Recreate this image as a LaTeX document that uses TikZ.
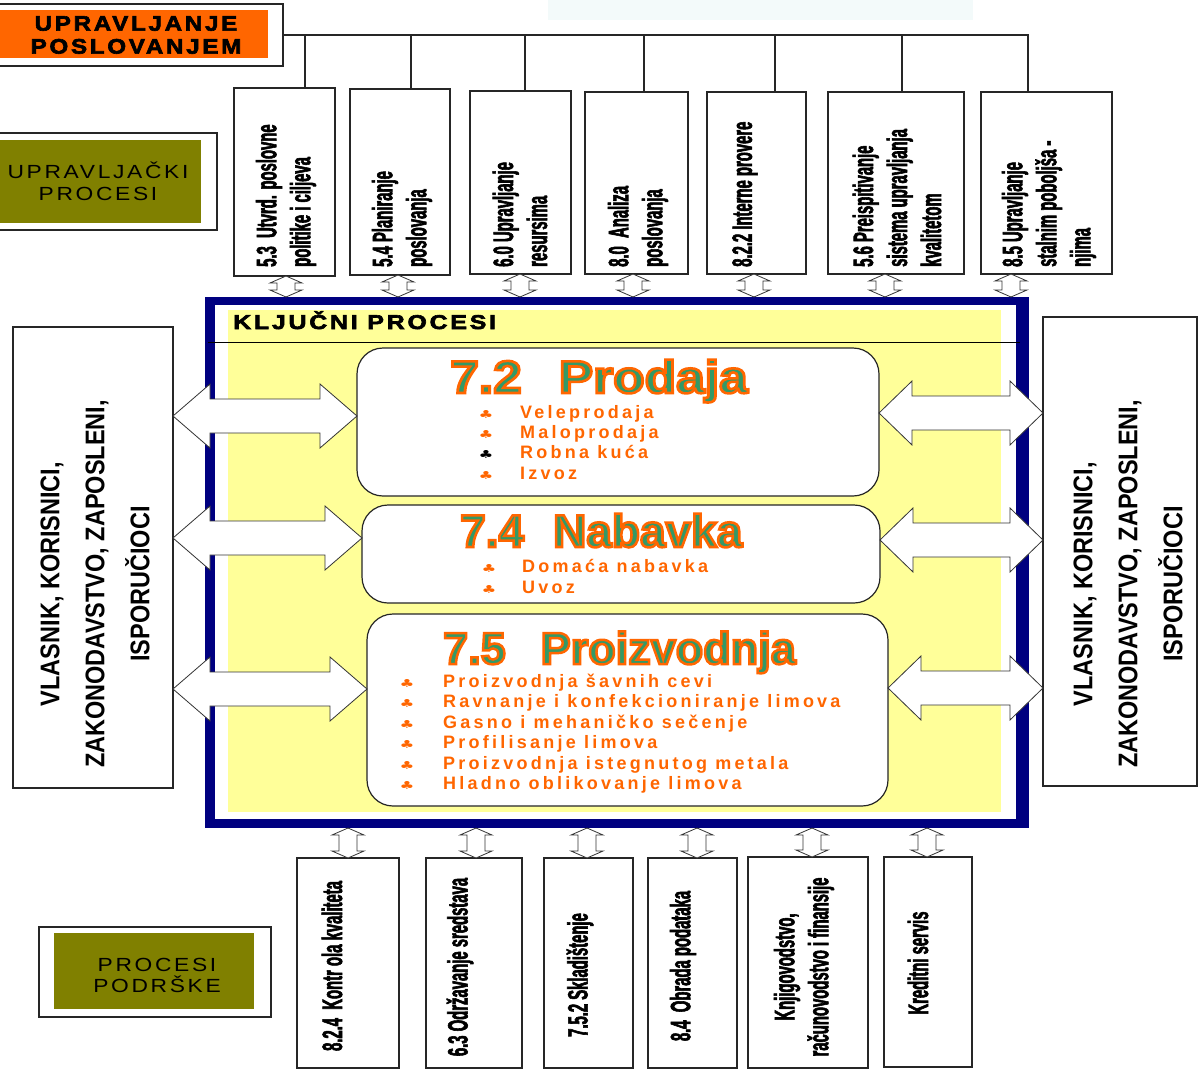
\documentclass[tikz,border=0pt]{standalone}
\usepackage{fontspec}
\setmainfont{Liberation Sans}
\newfontfamily\widefont[FakeStretch=1.2,LetterSpace=14]{Liberation Sans}
\newfontfamily\blackfont[FakeStretch=1.15,LetterSpace=13,FakeBold=3]{Liberation Sans}
\newfontfamily\itemfont[LetterSpace=18]{Liberation Sans}
\newfontfamily\condfont[FakeStretch=0.53,FakeBold=2]{Liberation Sans}
\newfontfamily\sidefont[FakeStretch=0.87]{Liberation Sans}
\newfontfamily\ttlfont[FakeBold=5.5]{Liberation Sans}
\newfontfamily\symfont{DejaVu Sans}
\usetikzlibrary{calc}
\definecolor{orng}{HTML}{FF6600}
\definecolor{olivec}{HTML}{808000}
\definecolor{yel}{HTML}{FFFF99}
\definecolor{navyc}{HTML}{000080}
\definecolor{ttlgr}{HTML}{339966}
\definecolor{itemor}{HTML}{FF6600}
\definecolor{paleblue}{HTML}{F3FAFA}
% green text with orange outline (stroke colour set after the fill colour)
\newcommand\olin[1]{{\color{ttlgr}\special{pdf:literal direct 1 0.4 0 RG}#1}}
\newcommand\harrow[4]{%
\draw[blockarrow] let \p1=(#1), \p2=(#2) in (\x1,\y1) -- (\x1+#3,\y1+32pt) -- (\x1+#3,\y1+17pt) -- (\x2-#4,\y1+17pt) -- (\x2-#4,\y1+32pt) -- (\x2,\y1) -- (\x2-#4,\y1-32pt) -- (\x2-#4,\y1-17pt) -- (\x1+#3,\y1-17pt) -- (\x1+#3,\y1-32pt) -- cycle;}
\newcommand\varrow[2]{%
\draw[blockarrow] let \p1=(#1), \p2=(#2) in (\x1,\y1) -- (\x1+16pt,\y1-7pt) -- (\x1+9pt,\y1-7pt) -- (\x1+9pt,\y2+7pt) -- (\x1+16pt,\y2+7pt) -- (\x1,\y2) -- (\x1-16pt,\y2+7pt) -- (\x1-9pt,\y2+7pt) -- (\x1-9pt,\y1-7pt) -- (\x1-16pt,\y1-7pt) -- cycle;}
\tikzset{
 box/.style={draw=black!85, line width=1.2pt, fill=white, inner sep=0pt, outer sep=0pt, anchor=north west},
 procbox/.style={draw=black!85, line width=1.2pt, fill=white, rounded corners=26pt, inner sep=0pt, outer sep=0pt, anchor=north west},
 rtext/.style={rotate=90, inner sep=0pt, align=left, anchor=west, font=\condfont\bfseries\fontsize{28}{34}\selectfont},
 ctext/.style={rotate=90, inner sep=0pt, align=center, font=\condfont\bfseries\fontsize{28}{34}\selectfont},
 sidetext/.style={rotate=90, inner sep=0pt, align=center, font=\sidefont\bfseries\fontsize{27}{45}\selectfont},
 itm/.style={anchor=base west, inner sep=0pt, text=itemor, font=\itemfont\bfseries\fontsize{18}{20}\selectfont},
 bul/.style={anchor=base, inner sep=0pt, xscale=1.5, text=itemor, font=\symfont\fontsize{11}{11}\selectfont},
 ttl/.style={anchor=base west, inner sep=0pt, font=\ttlfont\bfseries\fontsize{46}{50}\selectfont},
 conn/.style={draw=black!85, line width=1.1pt},
 blockarrow/.style={draw=black!80, line width=0.8pt, fill=white, line join=miter},
 lbl/.style={inner sep=0pt, align=center, text=black},
}
\begin{document}
\begin{tikzpicture}[x=1pt,y=-1pt]
\useasboundingbox (0,0) rectangle (1204,1074);
\fill[white] (0,0) rectangle (1204,1074);
\fill[paleblue] (548,0) rectangle (973,20);

% label boxes
\node[box, minimum width=285pt, minimum height=62pt] (UP) at (-2,4) {};
\fill[orng] (0,10) rectangle (268,58);
\node[lbl, font=\blackfont\bfseries\fontsize{21}{23}\selectfont] (UPt) at (136,35) {UPRAVLJANJE\\POSLOVANJEM};

\node[box, minimum width=219pt, minimum height=97pt] (UC) at (-2,133) {};
\fill[olivec] (0,140) rectangle (201,223);
\node[lbl, font=\widefont\fontsize{19}{22}\selectfont] (UCt) at (98,181) {UPRAVLJAČKI\\PROCESI};

\node[box, minimum width=232pt, minimum height=90pt] (PP) at (39,927) {};
\fill[olivec] (54,933) rectangle (254,1009);
\node[lbl, font=\widefont\fontsize{19}{21}\selectfont] (PPt) at (157,975) {PROCESI\\PODRŠKE};

% top boxes
\node[box, minimum width=101pt, minimum height=188pt] (T1) at (234,88) {};
\node[box, minimum width=100pt, minimum height=186pt] (T2) at (350,89) {};
\node[box, minimum width=101pt, minimum height=183pt] (T3) at (470,91) {};
\node[box, minimum width=103pt, minimum height=182pt] (T4) at (585,92) {};
\node[box, minimum width=99pt, minimum height=182pt] (T5) at (707,92) {};
\node[box, minimum width=136pt, minimum height=182pt] (T6) at (828,92) {};
\node[box, minimum width=131pt, minimum height=182pt] (T7) at (981,92) {};
\node[rtext] (T1t) at (286,267) {5.3~ Utvrd. poslovne\\politike i ciljeva};
\node[rtext] (T2t) at (402,267) {5.4 Planiranje\\poslovanja};
\node[rtext] (T3t) at (520,267) {6.0 Upravljanje\\resursima};
\node[rtext] (T4t) at (638,267) {8.0~ Analiza\\poslovanja};
\node[rtext] (T5t) at (745,267) {8.2.2 Interne provere};
\node[rtext] (T6t) at (897,267) {5.6 Preispitivanje\\sistema upravljanja\\kvalitetom};
\node[rtext] (T7t) at (1049,267) {8.5 Upravljanje\\stalnim poboljša -\\njima};

% management connector lines
\draw[conn] (UP.east) -- (1028,0 |- UP.east) -- (1028,0 |- T7.north);
\draw[conn] (305,0 |- UP.east) -- (305,0 |- T1.north);
\draw[conn] (411,0 |- UP.east) -- (411,0 |- T2.north);
\draw[conn] (525,0 |- UP.east) -- (525,0 |- T3.north);
\draw[conn] (644,0 |- UP.east) -- (644,0 |- T4.north);
\draw[conn] (775,0 |- UP.east) -- (775,0 |- T5.north);
\draw[conn] (902,0 |- UP.east) -- (902,0 |- T6.north);

% key process frame
\node[fill=navyc, inner sep=0pt, outer sep=0pt, anchor=north west, minimum width=824pt, minimum height=531pt] (F) at (205,297) {};
\fill[white] (215,305) rectangle (1016,819);
\fill[yel] (228,310) rectangle (1001,812);
\node[anchor=base west, inner sep=0pt, xscale=1.08, font=\blackfont\bfseries\fontsize{20}{22}\selectfont] (KP) at (233,329) {KLJUČNI PROCESI};
\draw[line width=0.9pt] (208,342) -- (1020,342);

% process boxes
\node[procbox, minimum width=522pt, minimum height=148pt] (P1) at (357,348) {};
\node[procbox, minimum width=518pt, minimum height=98pt] (P2) at (362,505) {};
\node[procbox, minimum width=521pt, minimum height=192pt] (P3) at (367,614) {};

\node[ttl, xscale=1.12] (P1t) at (450,393) {\olin{7.2\hspace{33pt}Prodaja}};
\node[ttl] (P2t) at (460,547) {\olin{7.4\hspace{29pt}Nabavka}};
\node[ttl, font=\ttlfont\bfseries\fontsize{45}{50}\selectfont] (P3t) at (443,664) {\olin{7.5\hspace{35pt}Proizvodnja}};

\node[bul] (b11) at (486,418) {♣};
\node[bul] (b12) at (486,438.5) {♣};
\node[bul, text=black] (b13) at (486,458.5) {♣};
\node[bul] (b14) at (486,479) {♣};
\node[itm] (i11) at (520,418) {Veleprodaja};
\node[itm] (i12) at (520,438.5) {Maloprodaja};
\node[itm] (i13) at (520,458.5) {Robna kuća};
\node[itm] (i14) at (520,479) {Izvoz};

\node[bul] (b21) at (489,572) {♣};
\node[bul] (b22) at (489,593) {♣};
\node[itm] (i21) at (522,572) {Domaća nabavka};
\node[itm] (i22) at (522,593) {Uvoz};

\node[bul] (b31) at (407,687) {♣};
\node[bul] (b32) at (407,707.5) {♣};
\node[bul] (b33) at (407,728) {♣};
\node[bul] (b34) at (407,748.5) {♣};
\node[bul] (b35) at (407,769) {♣};
\node[bul] (b36) at (407,789.5) {♣};
\node[itm] (i31) at (443,687) {Proizvodnja šavnih cevi};
\node[itm] (i32) at (443,707.5) {Ravnanje i konfekcioniranje limova};
\node[itm] (i33) at (443,728) {Gasno i mehaničko sečenje};
\node[itm] (i34) at (443,748.5) {Profilisanje limova};
\node[itm] (i35) at (443,769) {Proizvodnja istegnutog metala};
\node[itm] (i36) at (443,789.5) {Hladno oblikovanje limova};

% side boxes
\node[box, minimum width=160pt, minimum height=461pt] (L) at (13,327) {};
\node[box, minimum width=154pt, minimum height=469pt] (R) at (1043,317) {};
\node[sidetext] (Lt) at (95,584) {VLASNIK, KORISNICI,\\ZAKONODAVSTVO, ZAPOSLENI,\\ISPORUČIOCI};
\node[sidetext] (Rt) at (1128,584) {VLASNIK, KORISNICI,\\ZAKONODAVSTVO, ZAPOSLENI,\\ISPORUČIOCI};

% bottom boxes
\node[box, minimum width=102pt, minimum height=210pt] (B1) at (297,858) {};
\node[box, minimum width=96pt, minimum height=210pt] (B2) at (426,858) {};
\node[box, minimum width=89pt, minimum height=210pt] (B3) at (544,858) {};
\node[box, minimum width=89pt, minimum height=210pt] (B4) at (648,858) {};
\node[box, minimum width=120pt, minimum height=211pt] (B5) at (748,857) {};
\node[box, minimum width=88pt, minimum height=210pt] (B6) at (884,857) {};
\node[ctext] (B1t) at (332,966) {8.2.4~ Kontr ola kvaliteta};
\node[ctext] (B2t) at (460,967) {6.3 Održavanje sredstava};
\node[ctext] (B3t) at (580,975) {7.5.2 Skladištenje};
\node[ctext] (B4t) at (683,966) {8.4~ Obrada podataka};
\node[ctext] (B5t) at (804,967) {Knjigovodstvo,\\računovodstvo i finansije};
\node[ctext] (B6t) at (918,963) {Kreditni servis};

% vertical block arrows (top)
\varrow{286,0 |- T1.south}{286,0 |- F.north}
\varrow{398,0 |- T2.south}{398,0 |- F.north}
\varrow{520,0 |- T3.south}{520,0 |- F.north}
\varrow{633,0 |- T4.south}{633,0 |- F.north}
\varrow{754,0 |- T5.south}{754,0 |- F.north}
\varrow{885,0 |- T6.south}{885,0 |- F.north}
\varrow{1011,0 |- T7.south}{1011,0 |- F.north}
% vertical block arrows (bottom)
\varrow{348,0 |- F.south}{348,0 |- B1.north}
\varrow{476,0 |- F.south}{476,0 |- B2.north}
\varrow{587,0 |- F.south}{587,0 |- B3.north}
\varrow{697,0 |- F.south}{697,0 |- B4.north}
\varrow{812,0 |- F.south}{812,0 |- B5.north}
\varrow{927,0 |- F.south}{927,0 |- B6.north}

% horizontal block arrows
\harrow{L.east |- 0,416}{P1.west |- 0,416}{37pt}{37pt}
\harrow{L.east |- 0,538}{P2.west |- 0,538}{37pt}{37pt}
\harrow{L.east |- 0,689}{P3.west |- 0,689}{37pt}{37pt}
\harrow{P1.east |- 0,413}{R.west |- 0,413}{33pt}{33pt}
\harrow{P2.east |- 0,540}{R.west |- 0,540}{33pt}{33pt}
\harrow{P3.east |- 0,688}{R.west |- 0,688}{33pt}{33pt}
\end{tikzpicture}
\end{document}
